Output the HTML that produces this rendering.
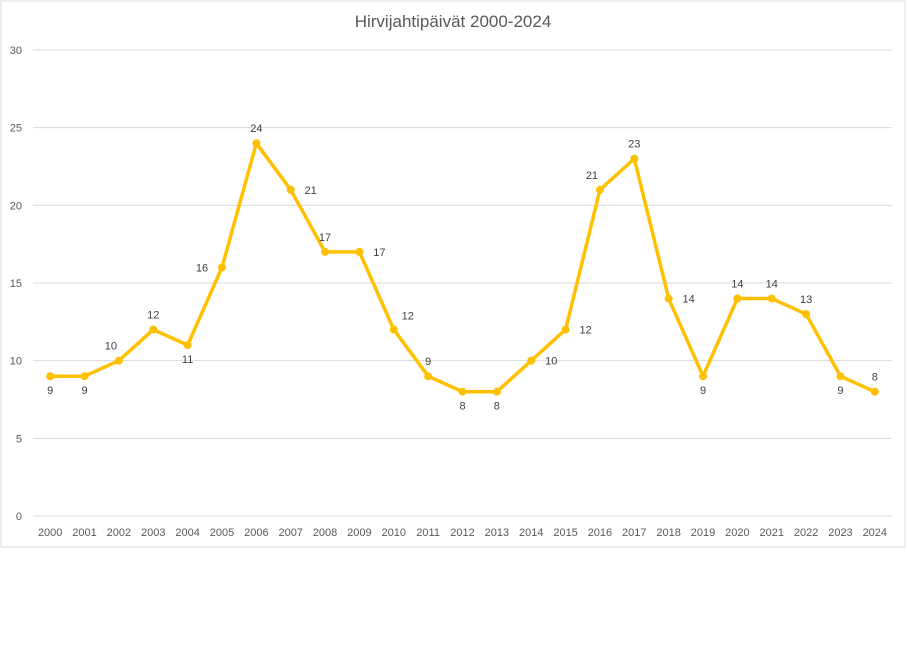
<!DOCTYPE html>
<html><head><meta charset="utf-8"><style>
body{margin:0;background:#fff;width:907px;height:659px;overflow:hidden;font-family:"Liberation Sans",sans-serif}
svg text{font-family:"Liberation Sans",sans-serif}
</style></head><body>
<svg id="chart" width="907" height="659">
<rect x="1" y="1" width="904" height="546" fill="#fff" stroke="#d9d9d9"/>
<text x="453" y="27" text-anchor="middle" font-size="17" fill="#595959">Hirvijahtipäivät 2000-2024</text>
<g id="grid"></g><g id="series"></g><g id="labels"></g>
</svg>
<script>
const categories=["2000","2001","2002","2003","2004","2005","2006","2007","2008","2009","2010","2011","2012","2013","2014","2015","2016","2017","2018","2019","2020","2021","2022","2023","2024"];
const values=[9,9,10,12,11,16,24,21,17,17,12,9,8,8,10,12,21,23,14,9,14,14,13,9,8];
const yTicks=[0,5,10,15,20,25,30];
const labelPos=["b","b","al","a","b","l","a","r","a","r","ar","a","b","b","r","r","al","a","r","b","a","a","a","b","a"];
const NS="http://www.w3.org/2000/svg";
const x0=33,x1=892,yTop=50,yBot=516,yMax=30;
const bw=(x1-x0)/categories.length;
const xs=i=>x0+bw*(i+0.5);
const ys=v=>yBot-(v/yMax)*(yBot-yTop);
function mk(t,a,p){const e=document.createElementNS(NS,t);for(const k in a)e.setAttribute(k,a[k]);p.appendChild(e);return e;}
const grid=document.getElementById('grid');
yTicks.forEach(t=>{
 const l=mk('line',{x1:x0,x2:x1,y1:ys(t),y2:ys(t),stroke:'#d9d9d9','stroke-width':1},grid);
 
 
 const tx=mk('text',{x:22,y:ys(t)+4,'text-anchor':'end','font-size':11,fill:'#595959'},grid);
 tx.textContent=t;
 
 
});
categories.forEach((c,i)=>{
 const tx=mk('text',{x:xs(i),y:536,'text-anchor':'middle','font-size':11,fill:'#595959'},grid);
 tx.textContent=c;
 
 
});
const s=document.getElementById('series');
const pl=mk('polyline',{points:values.map((v,i)=>xs(i)+','+ys(v)).join(' '),fill:'none',stroke:'#FFC000','stroke-width':3.5,'stroke-linejoin':'round'},s);


const lg=document.getElementById('labels');
values.forEach((v,i)=>{
 const c=mk('circle',{cx:xs(i),cy:ys(v),r:4,fill:'#FFC000'},s);
 
 
 let dx=0,dy=0;const p=labelPos[i];
 if(p==='b')dy=18;else if(p==='a')dy=-11;else if(p==='r'){dx=20;dy=4;}else if(p==='l'){dx=-20;dy=4;}
 else if(p==='al'){dx=-8;dy=-11;}else if(p==='ar'){dx=14;dy=-10;}
 const t=mk('text',{x:xs(i)+dx,y:ys(v)+dy,'text-anchor':'middle','font-size':11,fill:'#404040'},lg);
 t.textContent=v;
 
 
});
</script>
</body></html>
